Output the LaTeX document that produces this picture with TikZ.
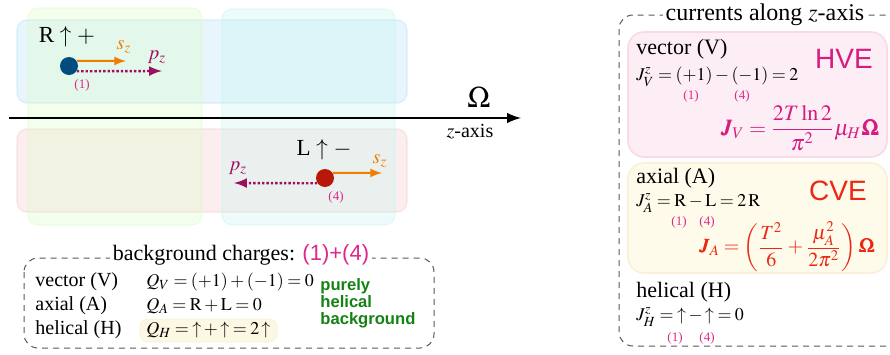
\documentclass[tikz,border=0pt]{standalone}
\usepackage{amsmath}
\usepackage{mathptmx}
\usepackage{bm}
\usepackage[no-math]{fontspec}
\setmainfont{Liberation Serif}
\setsansfont{Liberation Sans}
\usetikzlibrary{arrows,positioning}

\newcommand{\tightmath}{\medmuskip=2.5mu\relax\thickmuskip=3.5mu\relax}
\newcommand{\hup}{\mathord{\uparrow}}

\definecolor{regblue}{RGB}{178,222,245}
\definecolor{regred}{RGB}{245,198,198}
\definecolor{reggreen}{RGB}{217,251,195}
\definecolor{regcyan}{RGB}{195,245,240}
\definecolor{pdark}{RGB}{0,76,128}
\definecolor{pred}{RGB}{184,24,10}
\definecolor{spinorange}{RGB}{240,124,0}
\definecolor{mompurple}{RGB}{156,16,96}
\definecolor{tagpink}{RGB}{222,40,140}
\definecolor{hvecol}{RGB}{214,28,128}
\definecolor{cvecol}{RGB}{235,40,20}
\definecolor{greentxt}{RGB}{20,130,20}
\definecolor{pinkfill}{RGB}{253,238,246}
\definecolor{pinkline}{RGB}{250,218,226}
\definecolor{yelfill}{RGB}{254,251,234}
\definecolor{yelline}{RGB}{250,240,215}
\definecolor{hlfill}{RGB}{253,248,228}

\tikzset{
  region/.style={rounded corners=5pt, line width=0.6pt, fill opacity=0.3, draw opacity=0.45},
  bluereg/.style={region, fill=regblue, draw=regblue},
  redreg/.style={region, fill=regred, draw=regred},
  greenreg/.style={region, fill=reggreen, draw=reggreen},
  cyanreg/.style={region, fill=regcyan, draw=regcyan},
  particle/.style={circle, inner sep=0pt, minimum size=9pt},
  spinarr/.style={->, >=latex, line width=1pt, color=spinorange},
  momarr/.style={->, >=latex, line width=1.2pt, dash pattern=on 1.2pt off 1pt, color=mompurple},
  tag/.style={text=tagpink, font=\fontsize{6.5}{7}\selectfont, inner sep=0pt},
  dashbox/.style={draw=black!65, dash pattern=on 3pt off 2.5pt, rounded corners=7pt, line width=0.5pt},
  boxtitle/.style={fill=white, inner sep=1.5pt},
  txt/.style={anchor=west, inner sep=0pt},
  eq/.style={anchor=west, inner sep=0pt, font=\fontsize{9}{11}\selectfont},
  effect/.style={font=\fontsize{14}{14}\sffamily, inner sep=0pt},
}

\begin{document}
\begin{tikzpicture}[x=0.5pt,y=-0.5pt]
\useasboundingbox (0,0) rectangle (890,354);

% chirality / helicity regions
\draw[bluereg] (17,20) rectangle (407,103);
\draw[redreg] (17,129) rectangle (407,212);
\draw[greenreg] (28,8) rectangle (202,225);
\draw[cyanreg] (222,9) rectangle (395,225);

% rotation axis
\coordinate (Z0) at (9,118);
\coordinate (Z1) at (521,118);
\path[->, >=latex, line width=1.4pt] (Z0) edge [] node[]{} (Z1);
\node[] (Om) at (479,97) {\fontsize{15}{15}\selectfont$\Omega$};
\node[] (Zax) at (470,132) {\fontsize{10}{12}\selectfont$z$-axis};

% particle (1)
\node[particle, fill=pdark] (P1) at (69,66) {};
\coordinate (S1) at (126,61);
\coordinate (M1) at (162,71);
\path[spinarr] (P1.34) edge [] node[]{} (S1);
\path[momarr] (P1.-34) edge [] node[]{} (M1);
\node[] (R1) at (67,37) {\fontsize{11.5}{12}\selectfont R $\uparrow$ $+$};
\node[text=spinorange] (s1) at (124,47) {$s_z$};
\node[text=mompurple] (p1) at (157,57) {$p_z$};
\node[tag] (t1) at (82,85) {(1)};

% particle (4)
\node[particle, fill=pred] (P2) at (325,178) {};
\coordinate (S2) at (382,173);
\coordinate (M2) at (234,183);
\path[spinarr] (P2.34) edge [] node[]{} (S2);
\path[momarr] (P2.-146) edge [] node[]{} (M2);
\node[] (L2) at (324,150) {\fontsize{11.5}{12}\selectfont L $\uparrow$ $-$};
\node[text=spinorange] (s2) at (380,161) {$s_z$};
\node[text=mompurple] (p2) at (238,168) {$p_z$};
\node[tag] (t2) at (336,197) {(4)};

% background charges
\draw[dashbox] (24,258) rectangle (434,348);
\node[boxtitle] (BgT) at (241,255) {\fontsize{11}{13}\selectfont background charges: \textsf{\color{tagpink}(1)+(4)}};
\path[fill=hlfill, draw=yelline, rounded corners=4pt] (140,319) rectangle (277,342);
\node[txt] (Vq) at (35,282) {vector (V)};
\node[txt] (Aq) at (35,306) {axial (A)};
\node[txt] (Hq) at (35,330) {helical (H)};
\node[eq] (QV) at (146,282) {\tightmath$Q_V=(+1)+(-1)=0$};
\node[eq] (QA) at (146,306) {\tightmath$Q_A=\mathrm{R}+\mathrm{L}=0$};
\node[eq] (QH) at (146,330) {\tightmath$Q_H=\hup+\hup=2\,\hup$};
\node[txt, align=left, text=greentxt, font=\fontsize{8.3}{8.5}\sffamily\bfseries] (Pure) at (320,303) {purely\\helical\\background};

% currents along z
\draw[dashbox] (619,15) rectangle (905,346);
\node[boxtitle] (CuT) at (765,15) {\fontsize{12}{14}\selectfont currents along $z$-axis};

\path[fill=pinkfill, draw=pinkline, rounded corners=8pt, line width=0.8pt] (628,32) rectangle (887,157);
\node[txt] (Vc) at (636,49) {\fontsize{11}{13}\selectfont vector (V)};
\node[eq] (JVz) at (636,77) {\tightmath$J_V^z=(+1)-(-1)=2$};
\node[tag] (tv1) at (691,96) {(1)};
\node[tag] (tv4) at (742,96) {(4)};
\node[effect, text=hvecol] (HVE) at (844,59) {HVE};
\node[text=hvecol, inner sep=0pt] (JV) at (800,128) {\fontsize{11}{13}\selectfont\tightmath$\displaystyle\bm{J}_V=\frac{2T\ln 2}{\pi^2}\mu_H\bm{\Omega}$};

\path[fill=yelfill, draw=yelline, rounded corners=8pt, line width=0.8pt] (628,163) rectangle (887,273);
\node[txt] (Ac) at (636,178) {\fontsize{11}{13}\selectfont axial (A)};
\node[eq] (JAz) at (636,203) {\tightmath$J_A^z=\mathrm{R}-\mathrm{L}=2\,\mathrm{R}$};
\node[tag] (ta1) at (679,222) {(1)};
\node[tag] (ta4) at (707,222) {(4)};
\node[effect, text=cvecol] (CVE) at (838,191) {CVE};
\node[text=cvecol, inner sep=0pt] (JA) at (787,247) {\fontsize{10}{12}\selectfont\tightmath$\displaystyle\bm{J}_A=\left(\frac{T^2}{6}+\frac{\mu_A^2}{2\pi^2}\right)\bm{\Omega}$};

\node[txt] (Hc) at (636,292) {\fontsize{11}{13}\selectfont helical (H)};
\node[eq] (JHz) at (636,317) {\tightmath$J_H^z=\hup-\hup=0$};
\node[tag] (th1) at (675,338) {(1)};
\node[tag] (th4) at (707,338) {(4)};
\end{tikzpicture}
\end{document}
